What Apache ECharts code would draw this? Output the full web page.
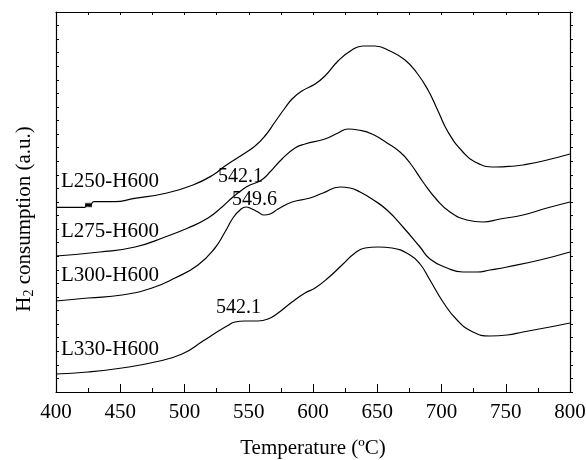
<!DOCTYPE html>
<html style="height: 100%">
<head>
   <meta charset="utf-8">
</head>
<style>
    body, html {
        margin: 0;
        width: 100%;
        height: 100%;
        background: #fff;
    }
    #chart {
        width: 586px;
        height: 460px;
    }
</style>
<title>H2-TPR</title>
<script src="https://cdn.jsdelivr.net/npm/echarts@6/dist/echarts.min.js"></script>
<body>
   <div id="chart"></div>
   <script type="text/javascript">
    // 数据：[温度 (°C), 信号 (a.u.)]
    var xTicks = [400, 450, 500, 550, 600, 650, 700, 750, 800];
    var sampleNames = ['L250-H600', 'L275-H600', 'L300-H600', 'L330-H600'];

    var l250 = [[400,184.7],[422.6,184.7],[423.4,189],[424.1,185],[424.9,189],[425.7,185],[426.5,189],[427.2,185],[428,189],[429.6,190.3],
        [445.9,190.3],[459.9,193.3],[486.4,199],[506.6,207],[522.2,217],[531.5,226],[544.7,237],[554.9,246],[562.6,256],[570.4,270],
        [578.2,284],[583.7,293],[591.4,301],[601.6,308],[609.3,316],[619.5,331],[630.3,342],[638.9,346],[648.2,346],[659.9,341],
        [671.6,332],[680.9,319],[689.5,302],[697.3,281],[705.1,260],[716,241],[726.1,230],[741.6,225],[757.2,226],[763.4,227],
        [779,231],[800,238]];
    var l275 = [[400,136],[434.2,140],[461.5,145],[484.8,155],[502.7,164],[518.3,174],[529.2,185],[537.7,195],[544.7,202],[551,207],
        [557.2,210],[561.9,214],[566.5,220],[575.9,233],[586,244],[593.8,248],[609.3,253],[619.5,259],[627.2,263],[635,262],
        [645.9,258],[657.6,249],[667.7,240],[675.5,229],[685.6,210],[696.5,192],[706.6,180],[719.8,172],[732.3,170],[745.5,173],
        [763.4,177],[782.1,184],[800,190]];
    var l300 = [[400,91],[424.9,94],[451.4,97],[474.7,104],[492.6,114],[510.5,127],[523.7,144],[531.5,160],[537.7,174],[543.2,182],
        [547.9,185],[552.5,183],[557.2,180],[561.9,177],[566.5,178],[572.8,183],[583.7,190],[597.7,194],[607.8,199],[621,205],
        [628.8,204],[636.6,200],[645.9,193],[657.6,182],[670,165],[683.3,145],[691,133],[704.3,124],[716.7,120],[727.6,120],
        [737.7,122],[751,125],[776.6,132],[800,140]];
    var l330 = [[400,18],[424.9,20],[451.4,24],[477,30],[498.1,38],[514.4,51],[525.3,60],[533.1,66],[539.3,70],[547.1,71],
        [557.2,71],[565,73],[572.8,79],[583.7,90],[593.8,99],[601.6,104],[611.7,114],[622.6,127],[632.7,139],[640.5,144],
        [650.6,145],[661.5,144],[675.5,137],[683.3,128],[691,112],[701.2,90],[712.1,72],[724.5,60],[737.7,56],[751,57],
        [763.4,60],[784.4,65],[800,69]];

    var peakLabels = ['542.1', '549.6', '542.1'];

    var serif = 'Liberation Serif, Times New Roman, serif';
    var chart = echarts.init(document.getElementById('chart'));

    function lineSeries(name, data) {
        return {
            name: name,
            type: 'line',
            data: data,
            showSymbol: false,
            smooth: 0.5,
            lineStyle: { color: '#000', width: 1.2 },
            z: 3
        };
    }

    function label(text, x, y, size) {
        return {
            type: 'text',
            x: x,
            y: y,
            style: {
                text: text,
                fill: '#000',
                font: size + 'px ' + serif,
                textAlign: 'left',
                textVerticalAlign: 'middle',
                align: 'left',
                verticalAlign: 'middle'
            },
            z: 10
        };
    }

    var option = {
        animation: false,
        backgroundColor: '#fff',
        grid: { left: 56, right: 16, top: 12, bottom: 68, containLabel: false, outerBoundsMode: 'none' },
        xAxis: [{
            type: 'value',
            min: 400, max: 800, interval: 50,
            position: 'bottom',
            name: 'Temperature (ºC)',
            nameLocation: 'middle',
            nameGap: 46,
            nameTextStyle: { color: '#000', fontSize: 21, fontFamily: serif },
            axisLine: { show: true, onZero: false, lineStyle: { color: '#000', width: 1.2 } },
            axisTick: { show: true, inside: true, length: 8, lineStyle: { color: '#000' } },
            minorTick: { show: true, splitNumber: 2, length: 4, lineStyle: { color: '#000' } },
            axisLabel: {
                color: '#000', fontSize: 21, fontFamily: serif, margin: 10,
                formatter: function (v) { return xTicks.indexOf(v) >= 0 ? String(v) : ''; }
            },
            splitLine: { show: false }
        }, {
            type: 'value',
            min: 400, max: 800, interval: 25,
            position: 'top',
            axisLine: { show: true, onZero: false, lineStyle: { color: '#000', width: 1.2 } },
            axisTick: { show: true, inside: true, length: 3, lineStyle: { color: '#000' } },
            axisLabel: { show: false },
            splitLine: { show: false }
        }],
        yAxis: [{
            type: 'value',
            min: 0, max: 380, interval: 380 / 28,
            position: 'left',
            axisLine: { show: true, onZero: false, lineStyle: { color: '#000', width: 1.2 } },
            axisTick: { show: true, inside: true, length: 3, lineStyle: { color: '#000' } },
            axisLabel: { show: false },
            splitLine: { show: false }
        }, {
            type: 'value',
            min: 0, max: 380, interval: 380 / 28,
            position: 'right',
            axisLine: { show: true, onZero: false, lineStyle: { color: '#000', width: 1.2 } },
            axisTick: { show: true, inside: false, length: 3, lineStyle: { color: '#000' } },
            axisLabel: { show: false },
            splitLine: { show: false }
        }],
        series: [
            lineSeries(sampleNames[0], l250),
            lineSeries(sampleNames[1], l275),
            lineSeries(sampleNames[2], l300),
            lineSeries(sampleNames[3], l330)
        ],
        graphic: [
            label(sampleNames[0], 61, 181, 21),
            label(sampleNames[1], 61, 231, 21),
            label(sampleNames[2], 61, 275, 21),
            label(sampleNames[3], 61, 349, 21),
            label(peakLabels[0], 218, 177, 20),
            label(peakLabels[1], 232, 200, 20),
            label(peakLabels[2], 216, 308, 20),
            {
                type: 'text',
                x: 24,
                y: 219,
                rotation: Math.PI / 2,
                style: {
                    text: '{a|H}{s|2}{a| consumption (a.u.)}',
                    fill: '#000',
                    font: '21px ' + serif,
                    textAlign: 'center',
                    textVerticalAlign: 'middle',
                    align: 'center',
                    verticalAlign: 'middle',
                    rich: {
                        a: { fontSize: 21, fontFamily: serif, fill: '#000', lineHeight: 24 },
                        s: { fontSize: 14, fontFamily: serif, fill: '#000', padding: [11, 0, 0, 0] }
                    }
                }
            }
        ]
    };

    chart.setOption(option);
   </script>
</body>
</html>
